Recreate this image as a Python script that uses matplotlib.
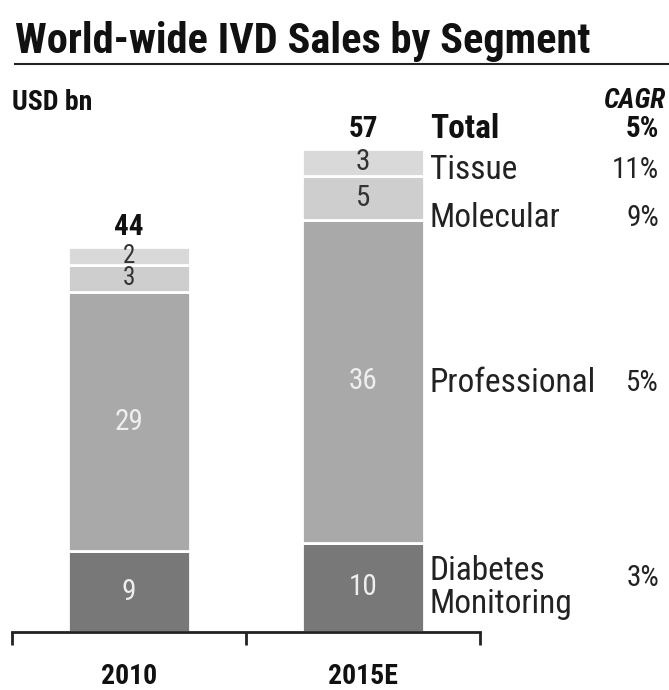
import matplotlib.pyplot as plt
from matplotlib import font_manager
from matplotlib.lines import Line2D

# pick a condensed family that has a real bold face
weights = {}
for f in font_manager.fontManager.ttflist:
    weights.setdefault(f.name, set()).add(f.weight)
family = 'DejaVu Sans'
for cand in ['Roboto Condensed', 'PT Sans Narrow', 'Archivo Narrow', 'Liberation Sans Narrow',
             'Saira SemiCondensed']:
    w = weights.get(cand, set())
    if 400 in w and any(x >= 700 for x in w):
        family = cand
        break
plt.rcParams['font.family'] = [family, 'DejaVu Sans']

# Data
years = ['2010', '2015E']
segments = ['Diabetes\nMonitoring', 'Professional', 'Molecular', 'Tissue']
values = {
    'Diabetes\nMonitoring': [9, 10],
    'Professional': [29, 36],
    'Molecular': [3, 5],
    'Tissue': [2, 3],
}
totals = [44, 57]
cagr = ['3%', '5%', '9%', '11%']
total_cagr = '5%'

colors = ['#787878', '#a9a9a9', '#cecece', '#d9d9d9']
text_colors = ['#eeeeee', '#eeeeee', '#333333', '#333333']
label_nudge = [0, -0.2, -2.2, -0.9]   # keep right-hand labels apart

fig = plt.figure(figsize=(6.69, 6.90), dpi=100)
ax = fig.add_axes([12 / 669, 58 / 690, 468 / 669, 532 / 690])

x = [0, 1]
bottom = [0, 0]
for seg, col, tcol in zip(segments, colors, text_colors):
    vals = values[seg]
    ax.bar(x, vals, width=0.52, bottom=bottom, color=col, edgecolor='white', linewidth=2)
    for i in range(2):
        # small 2010 segments are tight, use a smaller size there
        fs = 18 if (i == 0 and vals[i] <= 3) else 21
        ax.text(x[i], bottom[i] + vals[i] / 2, str(vals[i]), ha='center', va='center',
                fontsize=fs, color=tcol)
    bottom = [b + v for b, v in zip(bottom, vals)]
stack_top = bottom

# Totals above bars
for i in range(2):
    ax.text(x[i], stack_top[i] + 2.2, str(totals[i]), ha='center', va='center',
            fontsize=21, fontweight='bold', color='#111111')

# Segment labels and CAGR at the right, next to the 2015E segments
cum = 0
for seg, c, nudge in zip(segments, cagr, label_nudge):
    v = values[seg][1]
    mid = cum + v / 2 + nudge
    ax.text(1.285, mid, seg, ha='left', va='center', fontsize=24, color='#222222',
            linespacing=1.05, clip_on=False)
    ax.text(2.265, mid + (1 if c == '3%' else 0), c, ha='right', va='center', fontsize=21,
            color='#222222', clip_on=False)
    cum += v
ax.text(1.285, stack_top[1] + 2.2, 'Total', ha='left', va='center', fontsize=24,
        fontweight='bold', color='#111111', clip_on=False)
ax.text(2.265, stack_top[1] + 2.2, total_cagr, ha='right', va='center', fontsize=21,
        fontweight='bold', color='#111111', clip_on=False)

ax.set_xlim(-0.5, 1.5)
ax.set_ylim(0, 532 / 8.95)
for s in ['top', 'right', 'left']:
    ax.spines[s].set_visible(False)
ax.spines['bottom'].set_linewidth(2)
ax.spines['bottom'].set_color('#222222')
ax.set_yticks([])
ax.set_xticks(x)
ax.set_xticklabels(years, fontsize=20, fontweight='bold', color='#111111')
ax.tick_params(axis='x', which='major', length=0, pad=22)
ax.set_xticks([-0.5, 0.5, 1.5], minor=True)
ax.tick_params(axis='x', which='minor', length=9, width=2, color='#222222', direction='out')

# Header
fig.text(15 / 669, 1 - 42 / 690, 'World-wide IVD Sales by Segment', ha='left', va='center',
         fontsize=30.5, fontweight='bold', color='#111111')
fig.add_artist(Line2D([15 / 669, 1.0], [1 - 64 / 690, 1 - 64 / 690], color='#222222', lw=1.5))
fig.text(12 / 669, 1 - 103 / 690, 'USD bn', ha='left', va='center', fontsize=20,
         fontweight='bold', color='#111111')
fig.text(665 / 669, 1 - 100 / 690, 'CAGR', ha='right', va='center', fontsize=20,
         fontweight='bold', style='italic', color='#111111')

fig.savefig('out.png', dpi=100, facecolor='white')
